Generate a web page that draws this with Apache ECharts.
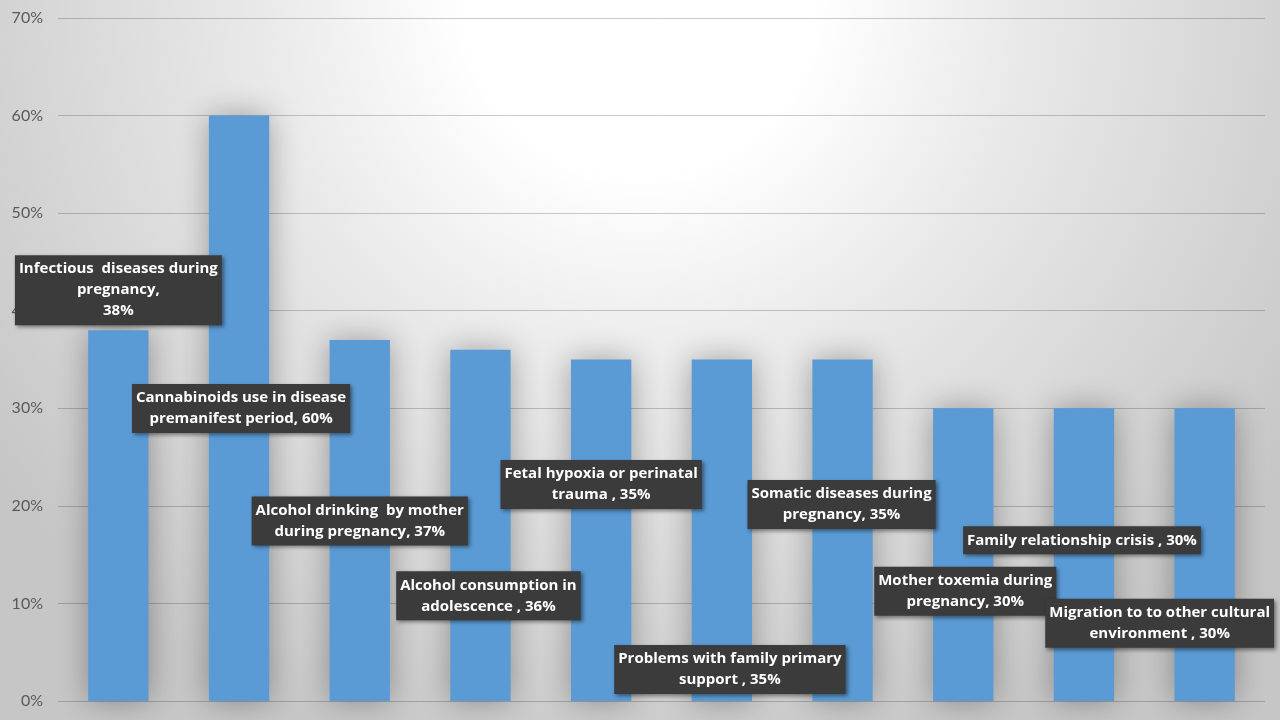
<!DOCTYPE html>
<html>
<head>
<meta charset="utf-8">
<style>
  html, body { margin: 0; padding: 0; }
  #chart {
    width: 1280px; height: 720px;
    background: radial-gradient(ellipse 62% 110% at 50% 0%, #ffffff 0%, #ffffff 22%, #e9e9e9 48%, #c6c6c6 100%);
  }
</style>
<script src="https://cdn.jsdelivr.net/npm/echarts@6/dist/echarts.min.js"></script>
</head>
<body>
<div id="chart"></div>
<script>
// risk factors (label text, with the original line breaks)
const categories = [
  'Infectious  diseases during\npregnancy,',
  'Cannabinoids use in disease\npremanifest period,',
  'Alcohol drinking  by mother\nduring pregnancy,',
  'Alcohol consumption in\nadolescence ,',
  'Fetal hypoxia or perinatal\ntrauma ,',
  'Problems with family primary\nsupport ,',
  'Somatic diseases during\npregnancy,',
  'Mother toxemia during\npregnancy,',
  'Family relationship crisis ,',
  'Migration to to other cultural\nenvironment ,'
];
// share, %
const values = [38, 60, 37, 36, 35, 35, 35, 30, 30, 30];
const yTicks = [0, 10, 20, 30, 40, 50, 60, 70];

// where each data label box sits: [dx from bar centre, dy from bar top to box centre]
const labelPlace = [
  [0, -40], [2, 293], [0, 181], [8, 246], [0, 125],
  [8, 310], [-1, 145], [2, 183], [-2, 132], [-45, 215]
];

const chart = echarts.init(document.getElementById('chart'));

const seriesData = values.map((v, i) => ({
  value: v,
  label: {
    position: ['50%', labelPlace[i][1]],
    offset: [labelPlace[i][0], 0],
    formatter: categories[i] + (i === 0 ? '\n' : ' ') + v + '%'
  }
}));

const option = {
  backgroundColor: 'transparent',
  animation: false,
  grid: { left: 58, right: 15, top: 18, bottom: 19, containLabel: false },
  xAxis: {
    type: 'category',
    data: categories,
    axisLine: { show: false },
    axisTick: { show: false },
    axisLabel: { show: false }
  },
  yAxis: {
    type: 'value',
    min: yTicks[0],
    max: yTicks[yTicks.length - 1],
    interval: 10,
    axisLine: { show: false },
    axisTick: { show: false },
    axisLabel: {
      formatter: '{value}%',
      color: '#595959',
      fontSize: 16,
      fontFamily: 'Lato',
      margin: 15
    },
    splitLine: { lineStyle: { color: 'rgba(0,0,0,0.2)', width: 1 } }
  },
  series: [{
    type: 'bar',
    data: seriesData,
    barCategoryGap: '50%',
    itemStyle: {
      color: '#5b9bd5',
      shadowBlur: 30,
      shadowColor: 'rgba(0,0,0,0.32)'
    },
    label: {
      show: true,
      align: 'center',
      verticalAlign: 'middle',
      color: '#ffffff',
      fontWeight: 'bold',
      fontSize: 15,
      lineHeight: 21,
      fontFamily: 'Open Sans',
      backgroundColor: '#3b3b3b',
      padding: [4, 4, 3, 4],
      shadowBlur: 4,
      shadowOffsetX: 2,
      shadowOffsetY: 2,
      shadowColor: 'rgba(0,0,0,0.45)'
    }
  }]
};

chart.setOption(option);
</script>
</body>
</html>
